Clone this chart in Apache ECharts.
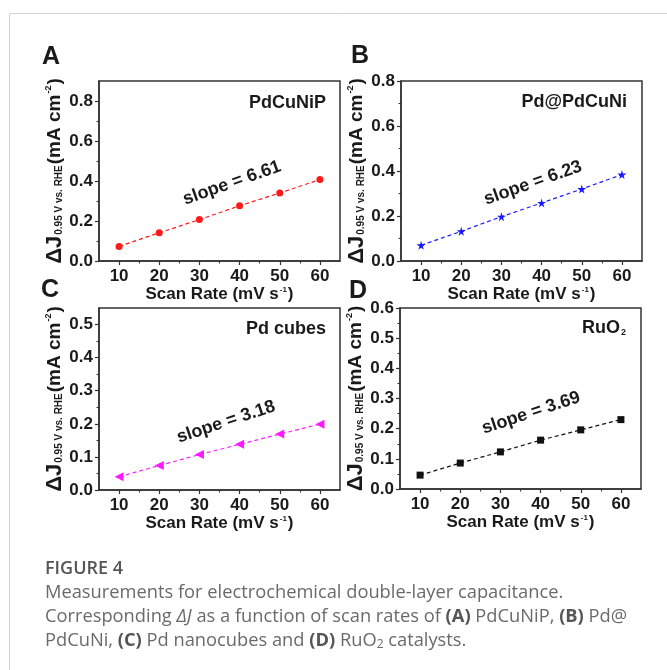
<!DOCTYPE html>
<html>
<head>
<meta charset="utf-8">
<script src="https://cdn.jsdelivr.net/npm/echarts@6/dist/echarts.min.js"></script>
<style>html,body{margin:0;padding:0;background:#fff;}#c{width:667px;height:670px;}</style>
</head>
<body>
<div id="c"></div>
<script>
// ---- data ----
const scanRates = [10, 20, 30, 40, 50, 60];
const dJ_PdCuNiP = [0.073, 0.141, 0.207, 0.276, 0.340, 0.407];
const dJ_PdPdCuNi = [0.070, 0.132, 0.197, 0.258, 0.320, 0.384];
const dJ_PdCubes = [0.040, 0.074, 0.107, 0.138, 0.169, 0.199];
const dJ_RuO2 = [0.046, 0.086, 0.123, 0.162, 0.196, 0.230];
const xTickLabels = [10, 20, 30, 40, 50, 60];
const xMinorTicks = [15, 25, 35, 45, 55];
const yTicksA = [0, 0.2, 0.4, 0.6, 0.8];
const yMinorA = [0.1, 0.3, 0.5, 0.7];
const yTicksB = [0, 0.2, 0.4, 0.6, 0.8];
const yMinorB = [0.1, 0.3, 0.5, 0.7];
const yTicksC = [0, 0.1, 0.2, 0.3, 0.4, 0.5];
const yMinorC = [0.05, 0.15, 0.25, 0.35, 0.45];
const yTicksD = [0, 0.1, 0.2, 0.3, 0.4, 0.5, 0.6];
const yMinorD = [0.05, 0.15, 0.25, 0.35, 0.45, 0.55];
const panelLetters = ['A', 'B', 'C', 'D'];
const sampleNames = ['PdCuNiP', 'Pd@PdCuNi', 'Pd cubes', 'RuO{sub|2}'];
const slopeLabels = ['slope = 6.61', 'slope = 6.23', 'slope = 3.18', 'slope = 3.69'];

const FONT = '"Liberation Sans", Arial, sans-serif';
const panels = [
  {data: dJ_PdCuNiP, yMax: 0.9, yt: yTicksA, ym: yMinorA, color: '#ff1a1a', symbol: 'circle', size: 7,
   grid: {left: 99, top: 81, width: 241, height: 180}},
  {data: dJ_PdPdCuNi, yMax: 0.8, yt: yTicksB, ym: yMinorB, color: '#1a1aff',
   symbol: 'path://M50,0 L61,35 L98,35 L68,57 L79,91 L50,70 L21,91 L32,57 L2,35 L39,35 Z', size: 9,
   grid: {left: 401, top: 81, width: 241, height: 180}},
  {data: dJ_PdCubes, yMax: 0.55, yt: yTicksC, ym: yMinorC, color: '#ff1aff',
   symbol: 'path://M0,50 L100,0 L100,100 Z', size: 9,
   grid: {left: 99, top: 308, width: 241, height: 182}},
  {data: dJ_RuO2, yMax: 0.6, yt: yTicksD, ym: yMinorD, color: '#111111', symbol: 'rect', size: 7,
   grid: {left: 400, top: 308, width: 241, height: 181}}
];

const grids = [], xAxes = [], yAxes = [], series = [];
const axisCol = '#333';
const ink = '#1a1a1a';
panels.forEach((p, i) => {
  grids.push(Object.assign({show: true, borderColor: axisCol, borderWidth: 1.5, backgroundColor: 'transparent'}, p.grid));
  // major x axis
  xAxes.push({
    type: 'value', gridIndex: i, min: 5, max: 65, position: 'bottom',
    axisLine: {show: true, lineStyle: {color: axisCol, width: 1.5}},
    axisTick: {show: true, inside: false, length: 4, customValues: xTickLabels, lineStyle: {color: axisCol, width: 1.2}},
    axisLabel: {customValues: xTickLabels, margin: 7, color: ink, fontFamily: FONT, fontWeight: 'bold', fontSize: 17},
    splitLine: {show: false},
    name: 'Scan Rate (mV s{sup|-1})', nameLocation: 'middle', nameGap: 20,
    nameTextStyle: {color: ink, fontFamily: FONT, fontWeight: 'bold', fontSize: 17,
      rich: {sup: {fontSize: 8, fontFamily: FONT, fontWeight: 'bold', color: ink, padding: [0, 1, 9, 1]}}}
  });
  // minor x ticks
  xAxes.push({
    type: 'value', gridIndex: i, min: 5, max: 65, position: 'bottom',
    axisLine: {show: false}, axisLabel: {show: false}, splitLine: {show: false},
    axisTick: {show: true, inside: false, length: 2.5, customValues: xMinorTicks, lineStyle: {color: axisCol, width: 1}}
  });
  yAxes.push({
    type: 'value', gridIndex: i, min: 0, max: p.yMax, position: 'left',
    axisLine: {show: true, lineStyle: {color: axisCol, width: 1.5}},
    axisTick: {show: true, inside: false, length: 4, customValues: p.yt, lineStyle: {color: axisCol, width: 1.2}},
    axisLabel: {customValues: p.yt, margin: 6, color: ink, fontFamily: FONT, fontWeight: 'bold', fontSize: 17,
      formatter: v => v.toFixed(1)},
    splitLine: {show: false},
    name: '{d|ΔJ}{sub|0.95 V vs. RHE}{n|(mA cm}{sup|-2}{n|)}', nameLocation: 'middle', nameRotate: 90, nameGap: 31,
    nameTextStyle: {
      rich: {
        d: {fontSize: 22, fontFamily: FONT, fontWeight: 'bold', color: ink},
        n: {fontSize: 19, fontFamily: FONT, fontWeight: 'bold', color: ink},
        sub: {fontSize: 10, fontFamily: FONT, fontWeight: 'bold', color: ink, padding: [10, 1, 0, 1]},
        sup: {fontSize: 9, fontFamily: FONT, fontWeight: 'bold', color: ink, padding: [0, 1, 11, 1]}
      }
    }
  });
  yAxes.push({
    type: 'value', gridIndex: i, min: 0, max: p.yMax, position: 'left',
    axisLine: {show: false}, axisLabel: {show: false}, splitLine: {show: false},
    axisTick: {show: true, inside: false, length: 2.5, customValues: p.ym, lineStyle: {color: axisCol, width: 1}}
  });
  series.push({
    type: 'line', xAxisIndex: 2 * i, yAxisIndex: 2 * i,
    data: scanRates.map((x, k) => [x, p.data[k]]),
    symbol: p.symbol, symbolSize: p.size, showSymbol: true,
    itemStyle: {color: p.color},
    lineStyle: {color: p.color, width: 1.2, type: [4, 3]},
    animation: false, silent: true
  });
});

const txt = (x, y, text, style, extra) => Object.assign({type: 'text', x: x, y: y, style: Object.assign({text: text, fill: ink, font: 'bold 17px ' + FONT}, style)}, extra || {});
const CAP = '"Open Sans", sans-serif';
const capSize = 18.3;

const graphics = [
  {type: 'rect', shape: {x: 9.5, y: 13.5, width: 700, height: 700}, style: {fill: 'none', stroke: '#d4d4d4', lineWidth: 1}},
  // panel letters
  txt(51, 57, panelLetters[0], {font: 'bold 25px ' + FONT, align: 'center', verticalAlign: 'middle'}),
  txt(360, 56, panelLetters[1], {font: 'bold 25px ' + FONT, align: 'center', verticalAlign: 'middle'}),
  txt(50, 290, panelLetters[2], {font: 'bold 25px ' + FONT, align: 'center', verticalAlign: 'middle'}),
  txt(358, 291, panelLetters[3], {font: 'bold 25px ' + FONT, align: 'center', verticalAlign: 'middle'}),
  // sample names
  txt(326, 103, sampleNames[0], {font: 'bold 18px ' + FONT, align: 'right', verticalAlign: 'middle', letterSpacing: 1}),
  txt(627, 102, sampleNames[1], {font: 'bold 18px ' + FONT, align: 'right', verticalAlign: 'middle', letterSpacing: 1}),
  txt(326, 329, sampleNames[2], {font: 'bold 18px ' + FONT, align: 'right', verticalAlign: 'middle', letterSpacing: 1}),
  txt(626, 328, sampleNames[3], {font: 'bold 18px ' + FONT, align: 'right', verticalAlign: 'middle', letterSpacing: 1,
    rich: {sub: {font: 'bold 9px ' + FONT, fill: ink, padding: [9, 0, 0, 1]}}}),
  // slope labels
  txt(232, 183, slopeLabels[0], {font: 'bold 18px ' + FONT, align: 'center', verticalAlign: 'middle'}, {rotation: 0.34}),
  txt(533, 183, slopeLabels[1], {font: 'bold 18px ' + FONT, align: 'center', verticalAlign: 'middle'}, {rotation: 0.34}),
  txt(226, 422, slopeLabels[2], {font: 'bold 18px ' + FONT, align: 'center', verticalAlign: 'middle'}, {rotation: 0.32}),
  txt(531, 413, slopeLabels[3], {font: 'bold 18px ' + FONT, align: 'center', verticalAlign: 'middle'}, {rotation: 0.32}),
  // caption
  txt(45, 569, 'FIGURE 4', {font: '600 18px ' + CAP, fill: '#555', verticalAlign: 'middle'}),
  txt(45, 593, 'Measurements for electrochemical double-layer capacitance.', {font: capSize + 'px ' + CAP, fill: '#6a6a6a', verticalAlign: 'middle'}),
  txt(45, 617, 'Corresponding {i|ΔJ} as a function of scan rates of {b|(A)} PdCuNiP, {b|(B)} Pd@', {font: capSize + 'px ' + CAP, fill: '#6a6a6a', verticalAlign: 'middle',
    rich: {i: {font: 'italic ' + capSize + 'px ' + CAP, fill: '#6a6a6a'}, b: {font: 'bold ' + capSize + 'px ' + CAP, fill: '#555'}}}),
  txt(45, 641, 'PdCuNi, {b|(C)} Pd nanocubes and {b|(D)} RuO{s|2} catalysts.', {font: capSize + 'px ' + CAP, fill: '#6a6a6a', verticalAlign: 'middle',
    rich: {b: {font: 'bold ' + capSize + 'px ' + CAP, fill: '#555'}, s: {font: '12px ' + CAP, fill: '#6a6a6a', padding: [8, 0, 0, 0]}}})
];

const chart = echarts.init(document.getElementById('c'), null, {renderer: 'canvas'});
chart.setOption({
  animation: false,
  backgroundColor: '#fff',
  grid: grids, xAxis: xAxes, yAxis: yAxes, series: series,
  graphic: graphics
});
</script>
</body>
</html>
